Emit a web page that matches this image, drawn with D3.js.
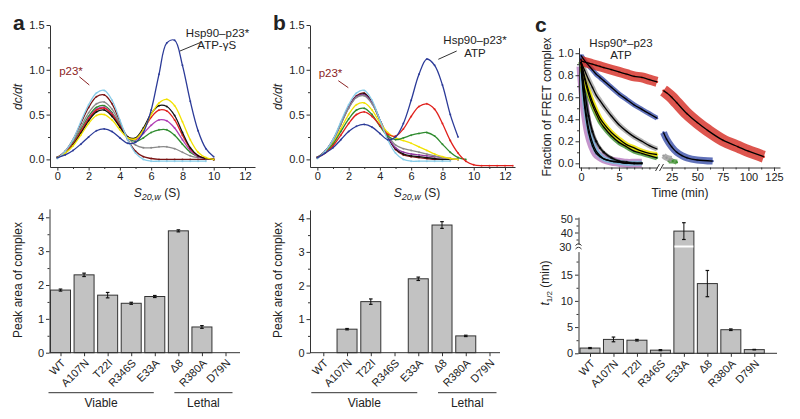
<!DOCTYPE html>
<html><head><meta charset="utf-8">
<script src="https://cdn.jsdelivr.net/npm/d3@7"></script>
<style>body{margin:0;background:#fff}svg{font-family:"Liberation Sans",Arial,sans-serif}</style>
</head><body><svg id="c" width="800" height="419"></svg>
<script>
// ---------- DATA ----------
// Panel a/b: sedimentation coefficient grid (S)
const sGrid = [0,0.5,1,1.5,2,2.5,3,3.5,4,4.5,5,5.5,6,6.5,7,7.5,8,8.5,9,9.5,10,10.5,11,11.5,12,12.5];
// Panel a (ATP-γS) dc/dt curves
const aBlue    = [0.02,0.05,0.10,0.17,0.25,0.32,0.34,0.31,0.24,0.18,0.19,0.30,0.55,0.95,1.30,1.33,1.05,0.65,0.32,0.12,0.03];
const aYellow  = [0.02,0.07,0.15,0.27,0.40,0.49,0.50,0.44,0.33,0.24,0.23,0.33,0.50,0.63,0.67,0.60,0.42,0.22,0.08,0.02,0.00];
const aBlack   = [0.02,0.07,0.16,0.29,0.43,0.53,0.55,0.48,0.36,0.25,0.24,0.35,0.51,0.60,0.59,0.49,0.30,0.13,0.04,0.01,0.00];
const aRed     = [0.02,0.08,0.17,0.31,0.45,0.55,0.57,0.50,0.37,0.25,0.23,0.33,0.47,0.55,0.54,0.44,0.27,0.12,0.04,0.01,0.00];
const aMagenta = [0.02,0.08,0.17,0.31,0.46,0.56,0.58,0.51,0.37,0.25,0.22,0.29,0.38,0.44,0.43,0.35,0.22,0.10,0.03,0.01,0.00];
const aGreen   = [0.02,0.08,0.18,0.33,0.48,0.58,0.60,0.52,0.38,0.25,0.20,0.24,0.30,0.33,0.33,0.27,0.17,0.08,0.03,0.01,0.00];
const aGray    = [0.02,0.09,0.20,0.36,0.52,0.62,0.64,0.56,0.40,0.25,0.16,0.13,0.13,0.14,0.14,0.12,0.08,0.04,0.02,0.01,0.00];
const aDarkRed = [0.02,0.09,0.22,0.40,0.58,0.70,0.72,0.62,0.42,0.22,0.09,0.03,0.01,0.00,0.00,0.00,0.00,0.00,0.00,0.00,0.00];
const aCyan    = [0.01,0.09,0.22,0.42,0.61,0.74,0.77,0.66,0.44,0.22,0.07,0.00,-0.02,-0.02,-0.02,-0.02,-0.02,-0.02,-0.02,-0.02];
// Panel b (ATP) dc/dt curves
const bBlue    = [0.02,0.07,0.13,0.22,0.31,0.37,0.39,0.36,0.29,0.22,0.25,0.40,0.66,0.95,1.12,1.05,0.83,0.50,0.25];
const bRed     = [0.02,0.07,0.15,0.27,0.40,0.50,0.53,0.48,0.38,0.28,0.26,0.34,0.48,0.59,0.62,0.56,0.40,0.21,0.07,-0.02,-0.06,-0.07,-0.07,-0.07,-0.07,-0.07];
const bGreen   = [0.02,0.08,0.17,0.31,0.45,0.55,0.57,0.50,0.37,0.26,0.22,0.24,0.27,0.29,0.30,0.26,0.17,0.08,0.02,0.00];
const bYellow  = [0.02,0.08,0.18,0.34,0.50,0.61,0.63,0.55,0.41,0.30,0.24,0.21,0.18,0.14,0.10,0.06,0.03,0.01,0.00];
const bGray    = [0.02,0.09,0.21,0.39,0.57,0.69,0.71,0.62,0.44,0.27,0.16,0.12,0.10,0.08,0.06,0.04,0.02,0.01,0.00];
const bPurple  = [0.02,0.09,0.21,0.39,0.58,0.70,0.72,0.63,0.44,0.26,0.13,0.08,0.06,0.05,0.04,0.03,0.02,0.01,0.00];
const bBlack   = [0.02,0.09,0.21,0.40,0.58,0.70,0.73,0.63,0.44,0.25,0.12,0.06,0.04,0.03,0.02,0.01,0.00,0.00];
const bDarkRed = [0.02,0.09,0.22,0.40,0.59,0.71,0.74,0.64,0.44,0.25,0.11,0.05,0.03,0.02,0.01,0.00,0.00,0.00,0.00];
const bCyan    = [0.01,0.09,0.22,0.42,0.61,0.74,0.77,0.66,0.44,0.22,0.07,0.00,-0.02,-0.02,-0.02,-0.02,-0.02,-0.02];
// Panel c: FRET complex fraction vs time (min)
const cTimeL   = [0,0.5,1,1.5,2,2.5,3,4,5,6,7,8,9,10];
const cRedL    = [0.93,0.92,0.91,0.90,0.89,0.88,0.87,0.85,0.83,0.81,0.79,0.78,0.76,0.74];
const cBlueL   = [0.98,0.93,0.89,0.85,0.81,0.78,0.75,0.69,0.63,0.58,0.53,0.49,0.45,0.41];
const cGrayL   = [0.92,0.84,0.76,0.69,0.62,0.57,0.52,0.43,0.35,0.29,0.24,0.20,0.16,0.13];
const cYellowL = [0.92,0.78,0.66,0.56,0.48,0.41,0.36,0.28,0.22,0.17,0.14,0.11,0.09,0.08];
const cGreenL  = [0.92,0.76,0.63,0.53,0.45,0.38,0.33,0.25,0.19,0.15,0.11,0.09,0.07,0.05];
const cPurpleL = [0.88,0.50,0.28,0.16,0.09,0.06,0.04,0.02,0.01,0.00,0.00,0.00];
const cCyanL   = [0.92,0.55,0.32,0.19,0.11,0.07,0.04,0.02,0.01,0.00,0.00,0.00];
const cBlackL  = [0.95,0.65,0.43,0.29,0.20,0.14,0.10,0.05,0.02,0.01,0.00,0.00];
const cTimeRedR  = [17,20,25,30,40,50,60,75,90,100,115];
const cRedR      = [0.66,0.64,0.60,0.55,0.45,0.37,0.30,0.21,0.15,0.11,0.06];
const cTimeBlueR = [17,20,25,30,35,40,50,65];
const cBlueR     = [0.28,0.22,0.15,0.10,0.07,0.05,0.03,0.02];
const cTimeGrayR = [17,20,25];
const cGrayR     = [0.07,0.05,0.04];
const cTimeGreenR= [22,26,30];
const cGreenR    = [0.02,0.02,0.01];
// Bar panels
const mutants = ["WT","A107N","T22I","R346S","E33A","Δ8","R380A","D79N"];
const peakAreaA    = [1.85,2.30,1.70,1.46,1.66,3.60,0.76,0];
const peakAreaAErr = [0.03,0.05,0.08,0.03,0.03,0.03,0.04,0];
const peakAreaB    = [0,0.70,1.52,0,2.20,3.80,0.50,0];
const peakAreaBErr = [0,0.02,0.08,0,0.05,0.10,0.02,0];
const tHalf        = [1.0,2.65,2.5,0.6,41,13.3,4.5,0.7];
const tHalfErr     = [0.1,0.45,0.15,0.1,6,2.5,0.15,0.05];
const groups = [{name:"Viable", from:"WT", to:"E33A"},{name:"Lethal", from:"Δ8", to:"D79N"}];

// ---------- HELPERS ----------
const svg = d3.select("#c");
const FF = '"Liberation Sans",Arial,sans-serif';
function styleAx(g){
  g.attr("font-family",FF).attr("font-size",11);
  g.selectAll("path,line").attr("stroke","#333").attr("stroke-width",1);
  g.selectAll("text").attr("fill","#222");
}
function axis(fn, scale, tx, ty, majors, minors, fmt){
  const g = svg.append("g").attr("transform",`translate(${tx},${ty})`)
    .call(fn(scale).tickValues(majors).tickFormat(fmt).tickSize(3.5).tickSizeOuter(0).tickPadding(2));
  styleAx(g);
  if(minors){
    const m = svg.append("g").attr("transform",`translate(${tx},${ty})`)
      .call(fn(scale).tickValues(minors).tickFormat("").tickSize(2).tickSizeOuter(0));
    m.select(".domain").remove(); styleAx(m);
  }
  return g;
}
function txt(x,y,s,o={}){
  const t = svg.append("text").attr("x",x).attr("y",y).attr("font-family",FF)
    .attr("font-size",o.size||11).attr("fill",o.fill||"#222").attr("text-anchor",o.anchor||"middle");
  if(o.weight) t.attr("font-weight",o.weight);
  if(o.style) t.attr("font-style",o.style);
  if(o.rot) t.attr("transform",`rotate(${o.rot},${x},${y})`);
  t.text(s); return t;
}
function ln(x1,y1,x2,y2,c="#333",w=1){svg.append("line").attr("x1",x1).attr("y1",y1).attr("x2",x2).attr("y2",y2).attr("stroke",c).attr("stroke-width",w);}

// ---------- TOP PANELS a & b ----------
function sedPanel(x0, series, letter, annot){
  const x = d3.scaleLinear().domain([-0.47,12.64]).range([x0, x0+205]);
  const y = d3.scaleLinear().domain([-0.085,1.5]).range([167,25]);
  const line = d3.line().x((d,i)=>x(sGrid[i])).y(d=>y(d)).curve(d3.curveCatmullRom.alpha(0.5));
  series.forEach(s=>{
    svg.append("path").datum(s.v).attr("d",line).attr("fill","none").attr("stroke",s.c).attr("stroke-width",1.3);
    svg.append("g").selectAll("circle").data(s.v).join("circle")
      .attr("cx",(d,i)=>x(sGrid[i])).attr("cy",d=>y(d)).attr("r",1).attr("fill",s.c).attr("opacity",0.8);
  });
  axis(d3.axisLeft, y, x0, 0, [0,0.5,1,1.5], [0.25,0.75,1.25], d3.format(".1f"));
  axis(d3.axisBottom, x, 0, 167, [0,2,4,6,8,10,12], [1,3,5,7,9,11], d3.format("d"));
  txt(x0-37, 30, letter, {size:21, weight:"bold", anchor:"start"});
  txt(x0-28, 97, "dc/dt", {size:12, style:"italic", rot:-90});
  const xl = svg.append("text").attr("x",x0+107).attr("y",197).attr("font-family",FF).attr("font-size",12).attr("text-anchor","middle").attr("fill","#222");
  xl.append("tspan").attr("font-style","italic").text("S");
  xl.append("tspan").attr("font-size",9).attr("dy",3).attr("font-style","italic").text("20,w");
  xl.append("tspan").attr("dy",-3).text(" (S)");
  annot();
}
sedPanel(50, [
  {v:aDarkRed,c:"#7a1414"},{v:aGray,c:"#8a8a8a"},{v:aGreen,c:"#2e8b2e"},{v:aMagenta,c:"#b03cb4"},
  {v:aRed,c:"#e0201c"},{v:aBlack,c:"#111"},{v:aYellow,c:"#f2e200"},{v:aCyan,c:"#86cbe8"},{v:aBlue,c:"#2b3a98"}
], "a", ()=>{
  txt(217.5,37,"Hsp90–p23*",{size:11.5}); txt(216.7,48.5,"ATP-γS",{size:11.5});
  ln(180,51,200,42.7);
  txt(71,75,"p23*",{size:11.5,fill:"#8b2323"}); ln(79.3,76.7,89.3,85,"#8b2323");
});
sedPanel(310, [
  {v:bDarkRed,c:"#7a1414"},{v:bBlack,c:"#111"},{v:bPurple,c:"#8e3a9e"},{v:bGray,c:"#8a8a8a"},{v:bYellow,c:"#f2e200"},
  {v:bGreen,c:"#2e8b2e"},{v:bRed,c:"#e0201c"},{v:bCyan,c:"#86cbe8"},{v:bBlue,c:"#2b3a98"}
], "b", ()=>{
  txt(475,44,"Hsp90–p23*",{size:11.5}); txt(475,57,"ATP",{size:11.5});
  ln(438.3,59.3,456.7,51);
  txt(330.5,77,"p23*",{size:11.5,fill:"#8b2323"}); ln(338.3,80.7,348.3,87.7,"#8b2323");
});

// ---------- TOP PANEL c ----------
(function(){
  const xL = d3.scaleLinear().domain([-0.26,10.0]).range([579,657]);
  const xR = d3.scaleLinear().domain([15.54,130.85]).range([662,780]);
  const y = d3.scaleLinear().domain([-0.038,1.05]).range([167.5,47.7]);
  function band(t, v, xs, col, w, op){
    const line = d3.line().x((d,i)=>xs(t[i])).y(d=>y(d)).curve(d3.curveCatmullRom.alpha(0.5));
    svg.append("path").datum(v).attr("d",line).attr("fill","none").attr("stroke",col).attr("stroke-width",w).attr("opacity",op).attr("stroke-linecap","butt");
    svg.append("g").selectAll("circle").data(v).join("circle").attr("cx",(d,i)=>xs(t[i])).attr("cy",d=>y(d)).attr("r",1.2).attr("fill",col);
    return line;
  }
  function fit(t, v, xs){
    const line = d3.line().x((d,i)=>xs(t[i])).y(d=>y(d)).curve(d3.curveCatmullRom.alpha(0.5));
    svg.append("path").datum(v).attr("d",line).attr("fill","none").attr("stroke","#000").attr("stroke-width",1.3);
  }
  const L = [
    {v:cPurpleL,c:"#8a2a9a",w:9,o:0.5},{v:cCyanL,c:"#6bc0dc",w:5,o:0.7},{v:cBlackL,c:"#222",w:3,o:0.6},
    {v:cGreenL,c:"#3d8f2e",w:5,o:0.8},{v:cYellowL,c:"#ece200",w:5,o:0.85},{v:cGrayL,c:"#9a9a9a",w:5,o:0.75},
    {v:cBlueL,c:"#3a4fa8",w:5,o:0.8},{v:cRedL,c:"#d42a22",w:10,o:0.8}
  ];
  L.forEach(s=>band(cTimeL.slice(0,s.v.length), s.v, xL, s.c, s.w, s.o));
  const R = [
    {t:cTimeGreenR,v:cGreenR,c:"#3d8f2e",w:5},{t:cTimeGrayR,v:cGrayR,c:"#9a9a9a",w:6},
    {t:cTimeBlueR,v:cBlueR,c:"#3a4fa8",w:7},{t:cTimeRedR,v:cRedR,c:"#d42a22",w:12}
  ];
  R.forEach(s=>band(s.t, s.v, xR, s.c, s.w, 0.8));
  L.forEach(s=>fit(cTimeL.slice(0,s.v.length), s.v, xL));
  fit(cTimeBlueR,cBlueR,xR); fit(cTimeRedR,cRedR,xR);
  axis(d3.axisLeft, y, 579, 0, [0,0.2,0.4,0.6,0.8,1.0], [0.1,0.3,0.5,0.7,0.9], d3.format(".1f"));
  axis(d3.axisBottom, xL, 0, 167.5, [0,5], [1,2,3,4,6,7,8,9], d3.format("d"));
  axis(d3.axisBottom, xR, 0, 167.5, [25,50,75,100,125], [37.5,62.5,87.5,112.5], d3.format("d"));
  svg.append("path").attr("d","M655.5,171 L659.5,164 M659.5,171 L663.5,164").attr("stroke","#333").attr("fill","none");
  txt(535,32,"c",{size:21,weight:"bold",anchor:"start"});
  txt(621,47,"Hsp90*–p23",{size:11.5}); txt(621,58.5,"ATP",{size:11.5});
  txt(551,107,"Fraction of FRET complex",{size:12,rot:-90});
  txt(680,197,"Time (min)",{size:12});
})();

// ---------- BAR PANELS ----------
function catLabels(g){
  g.selectAll(".tick text").attr("x",0).attr("y",0).attr("dy",0)
    .attr("text-anchor","end").attr("transform","translate(5,11) rotate(-45)");
}
function barPanel(x0, c0, c1, axisEnd, y0px, y4px, vals, errs){
  const x = d3.scalePoint().domain(mutants).range([c0,c1]);
  const y = d3.scaleLinear().domain([0,4]).range([y0px,y4px]);
  const top = y(4.25);
  vals.forEach((v,i)=>{
    if(v<=0) return;
    const cx = x(mutants[i]);
    svg.append("rect").attr("x",cx-10).attr("width",20).attr("y",y(v)).attr("height",y0px-y(v))
      .attr("fill","#c2c2c2").attr("stroke","#333").attr("stroke-width",1);
    const e = errs[i];
    ln(cx,y(v+e),cx,y(v-e),"#111",1); ln(cx-1.8,y(v+e),cx+1.8,y(v+e),"#111",1.2); ln(cx-1.8,y(v-e),cx+1.8,y(v-e),"#111",1.2);
  });
  const ay = svg.append("g").attr("transform",`translate(${x0},0)`)
    .call(d3.axisLeft(y.copy().domain([0,4.25]).range([y0px,top])).tickValues([0,1,2,3,4]).tickFormat(d3.format("d")).tickSize(3.5).tickSizeOuter(0).tickPadding(2));
  styleAx(ay);
  const am = svg.append("g").attr("transform",`translate(${x0},0)`)
    .call(d3.axisLeft(y).tickValues([0.5,1.5,2.5,3.5]).tickFormat("").tickSize(2));
  am.select(".domain").remove(); styleAx(am);
  const xa = svg.append("g").attr("transform",`translate(0,${y0px})`)
    .call(d3.axisBottom(x).tickSize(3.5).tickSizeOuter(0).tickPadding(2));
  xa.select(".domain").attr("d",`M${x0},0H${axisEnd}`);
  styleAx(xa); catLabels(xa);
  txt(x0-28, 280, "Peak area of complex", {size:12, rot:-90});
  const offs = {Viable:[-12,-1], Lethal:[-4,7]};
  groups.forEach(gp=>{
    const a = x(gp.from)+offs[gp.name][0], b = x(gp.to)+offs[gp.name][1];
    ln(a,392.7,b,392.7,"#333",1);
    txt((a+b)/2, 407, gp.name, {size:12});
  });
}
barPanel(49.5, 60.5, 225.5, 240, 352.7, 217.3, peakAreaA, peakAreaAErr);
barPanel(310, 323.3, 489.5, 500, 352.7, 218.3, peakAreaB, peakAreaBErr);

// Panel c bottom with broken axis
(function(){
  const x = d3.scalePoint().domain(mutants).range([590,754.3]);
  const y = d3.scaleLinear().domain([0,20.3,30,50]).range([353.3,246.9,246.5,218.5]);
  const y0 = y(0);
  tHalf.forEach((v,i)=>{
    const cx = x(mutants[i]);
    svg.append("rect").attr("x",cx-10).attr("width",20).attr("y",y(v)).attr("height",y0-y(v))
      .attr("fill","#c2c2c2").attr("stroke","#333").attr("stroke-width",1);
    const e = tHalfErr[i];
    ln(cx,y(v+e),cx,y(v-e),"#111",1); ln(cx-1.8,y(v+e),cx+1.8,y(v+e),"#111",1.2); ln(cx-1.8,y(v-e),cx+1.8,y(v-e),"#111",1.2);
    if(v>30){ svg.append("line").attr("x1",cx-9.5).attr("x2",cx+9.5).attr("y1",y(30)).attr("y2",y(30)).attr("stroke","#fff").attr("stroke-width",2); }
  });
  const yLow = d3.scaleLinear().domain([0,19.4]).range([353.3,251.6]);
  const g1 = svg.append("g").attr("transform","translate(578.5,0)")
    .call(d3.axisLeft(yLow).tickValues([0,5,10,15]).tickFormat(d3.format("d")).tickSize(3.5).tickSizeOuter(0).tickPadding(2));
  styleAx(g1);
  const m1 = svg.append("g").attr("transform","translate(578.5,0)")
    .call(d3.axisLeft(yLow).tickValues([2.5,7.5,12.5,17.5]).tickFormat("").tickSize(2));
  m1.select(".domain").remove(); styleAx(m1);
  const yHigh = d3.scaleLinear().domain([31.5,51]).range([244.4,217.1]);
  const g2 = svg.append("g").attr("transform","translate(578.5,0)")
    .call(d3.axisLeft(yHigh).tickValues([40,50]).tickFormat(d3.format("d")).tickSize(3.5).tickSizeOuter(0).tickPadding(2));
  styleAx(g2);
  const m2 = svg.append("g").attr("transform","translate(578.5,0)")
    .call(d3.axisLeft(yHigh).tickValues([35,45]).tickFormat("").tickSize(2));
  m2.select(".domain").remove(); styleAx(m2);
  txt(571.5, y(30)+4, "30", {anchor:"end"});
  svg.append("path").attr("d","M575.5,245.5 Q578.5,242 581.5,245.5 M575.5,249 Q578.5,245.5 581.5,249").attr("stroke","#333").attr("fill","none");
  const xa = svg.append("g").attr("transform",`translate(0,${y0})`)
    .call(d3.axisBottom(x).tickSize(3.5).tickSizeOuter(0).tickPadding(2));
  xa.select(".domain").attr("d","M578.5,0H777");
  styleAx(xa); catLabels(xa);
  const yl = svg.append("text").attr("font-family",FF).attr("font-size",12).attr("fill","#222")
    .attr("text-anchor","middle").attr("transform","translate(549,283) rotate(-90)");
  yl.append("tspan").attr("font-style","italic").text("t");
  yl.append("tspan").attr("font-size",8).attr("dy",3).text("1/2");
  yl.append("tspan").attr("dy",-3).text(" (min)");
})();
</script></body></html>
